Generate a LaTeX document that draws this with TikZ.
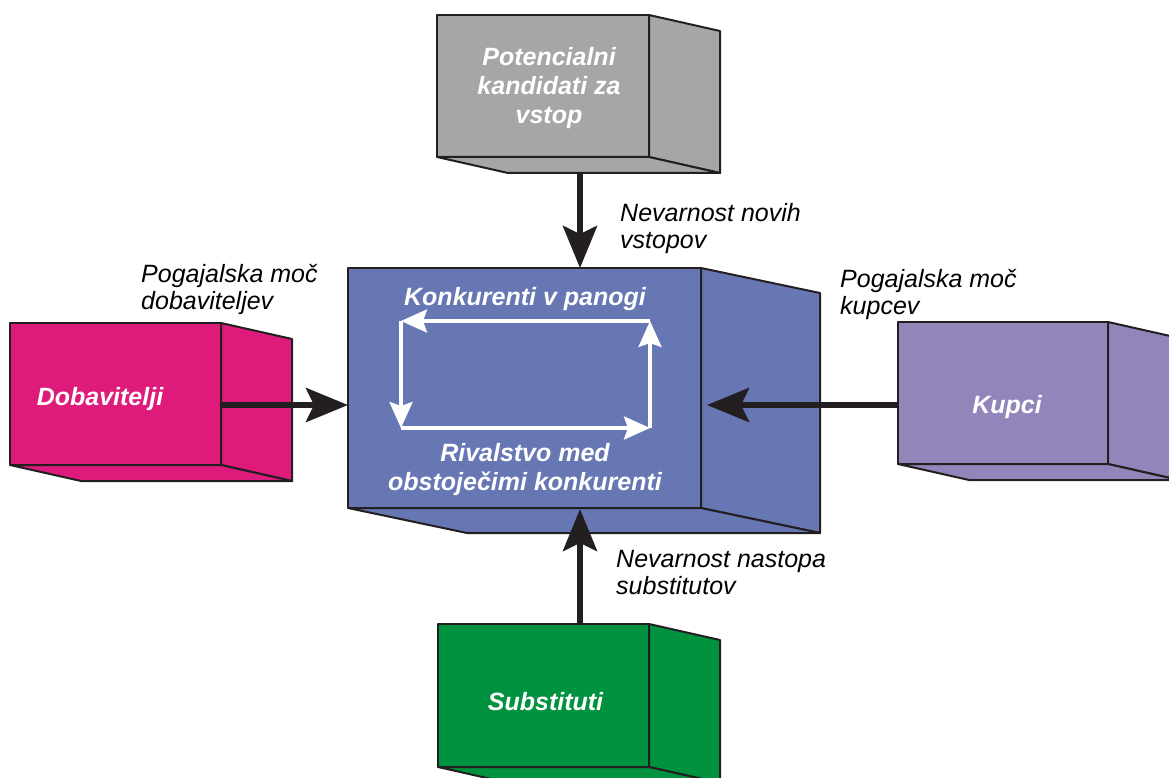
\documentclass[tikz,border=0pt]{standalone}
\usepackage{fontspec}
\setmainfont{Liberation Sans}
\usetikzlibrary{arrows.meta,calc}

\definecolor{edge}{HTML}{231F20}
\definecolor{entrantgray}{HTML}{A6A6A6}
\definecolor{rivalblue}{HTML}{6677B4}
\definecolor{suppliermagenta}{HTML}{DE1A7B}
\definecolor{buyerpurple}{HTML}{9285BA}
\definecolor{substitutegreen}{HTML}{00923F}

\tikzset{
  face/.style={draw=edge, line width=2pt, line join=round},
  frontface/.style={face, rectangle, inner sep=0pt, outer sep=0pt},
  boxtext/.style={text=white, font=\fontsize{25}{29}\selectfont\bfseries\itshape,
    align=center, inner sep=0pt},
  forcetext/.style={text=black, font=\fontsize{25}{27}\selectfont\itshape,
    align=left, inner sep=0pt, anchor=north west},
  force/.style={draw=edge, line width=6pt,
    -{Stealth[length=42pt, width=34pt, inset=8pt]}},
  rivalflow/.style={draw=white, line width=3.5pt,
    -{Stealth[length=26pt, width=23pt, inset=4pt]}}
}

% 3D block: name, centre x, centre y, width, height, depth dx, depth dy, colour
\newcommand{\forceblock}[8]{%
  \node[frontface, fill=#8, minimum width=#4pt, minimum height=#5pt] (#1) at (#2,#3) {};
  \draw[face, fill=#8] (#1.north east) -- ++(#6,#7)
    -- ($(#1.south east)+(#6,#7)$) -- (#1.south east) -- cycle;
  \draw[face, fill=#8] (#1.south west) -- (#1.south east) -- ++(#6,#7)
    -- ($(#1.south west)+(#6,#7)$) -- cycle;
}

\begin{document}
\begin{tikzpicture}[x=1pt, y=-1pt]
  \useasboundingbox (0,0) rectangle (1169,778);

  % the five blocks
  \forceblock{entrants}{543}{86}{212}{142}{71}{16}{entrantgray}
  \forceblock{rivalry}{524.5}{388}{353}{240}{119}{25}{rivalblue}
  \forceblock{suppliers}{115.5}{394}{211}{142}{71}{16}{suppliermagenta}
  \forceblock{buyers}{1003}{393}{210}{142}{71}{16}{buyerpurple}
  \forceblock{substitutes}{543.5}{695.5}{211}{143}{71}{16}{substitutegreen}

  % block captions
  \node[boxtext] (entrants-text) at (549,88.5) {Potencialni\\kandidati za\\vstop};
  \node[boxtext, anchor=base] (rivalry-title) at (525,305) {Konkurenti v panogi};
  \node[boxtext] (rivalry-text) at (525,469.7) {Rivalstvo med\\obstoječimi konkurenti};
  \node[boxtext, anchor=base] (suppliers-text) at (100,405) {Dobavitelji};
  \node[boxtext, anchor=base] (buyers-text) at (1007,413) {Kupci};
  \node[boxtext, anchor=base] (substitutes-text) at (545.5,710) {Substituti};

  % rivalry cycle inside the central block
  \coordinate (cycle-tl) at (401,321);
  \coordinate (cycle-tr) at (650,321);
  \coordinate (cycle-br) at (650,428);
  \coordinate (cycle-bl) at (401,428);
  \draw[rivalflow] (cycle-tr) -- (cycle-tl);
  \draw[rivalflow] (cycle-tl) -- (cycle-bl);
  \draw[rivalflow] (cycle-bl) -- (cycle-br);
  \draw[rivalflow] (cycle-br) -- (cycle-tr);

  % the four outer forces
  \draw[force] ($(entrants.south -| 580,0)+(0,16)$) -- (rivalry.north -| 580,0);
  \draw[force] (substitutes.north -| 580,0) -- ([yshift=-1pt]rivalry.south -| 580,0);
  \draw[force] (suppliers.east |- 0,405) -- (rivalry.west |- 0,405);
  \draw[force] (buyers.west |- 0,405) -- ([xshift=6pt]rivalry.east |- 0,405);

  % force labels
  \node[forcetext] (entrants-label) at (620,203.1) {Nevarnost novih\\vstopov};
  \node[forcetext] (suppliers-label) at (141,263.7) {Pogajalska moč\\dobaviteljev};
  \node[forcetext] (buyers-label) at (840,268.7) {Pogajalska moč\\kupcev};
  \node[forcetext] (substitutes-label) at (616,550.1) {Nevarnost nastopa\\substitutov};
\end{tikzpicture}
\end{document}
